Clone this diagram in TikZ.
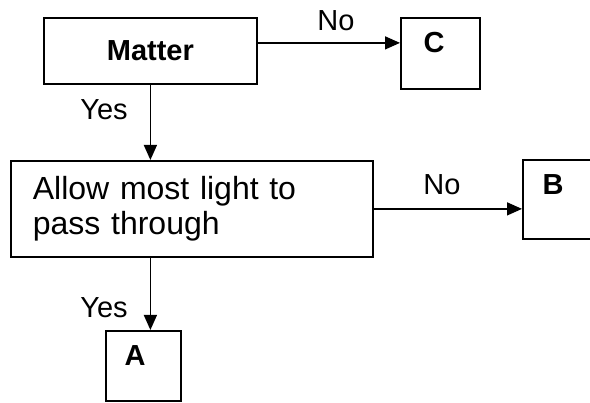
\documentclass[tikz,border=0pt]{standalone}
\usepackage{fontspec}
\setmainfont{Liberation Sans}
\usetikzlibrary{arrows.meta}
\begin{document}
\begin{tikzpicture}[x=1pt,y=1pt,
  box/.style={draw,line width=1.8pt,inner sep=0pt,anchor=north west},
  lbl/.style={font=\fontsize{29}{35}\selectfont,inner sep=0pt},
  blbl/.style={font=\fontsize{29}{35}\selectfont\bfseries,inner sep=0pt},
  conn/.style={line width=1.5pt},
  arr/.style={conn,-{Triangle[length=15pt,width=13pt]}}]
\useasboundingbox (0,0) rectangle (590,-403);
\clip (0,0) rectangle (590,-403);
% boxes
\node[box,minimum width=213pt,minimum height=66pt,blbl] (matter) at (43,-17) {Matter};
\node[box,minimum width=79pt,minimum height=71pt] (c) at (400,-17) {};
\node[box,minimum width=362pt,minimum height=96pt,font=\fontsize{32}{35}\selectfont,align=left,text width=318pt,inner xsep=22pt,inner ysep=0pt] (allow) at (10,-160) {Allow most light to\\pass through};
\node[box,minimum width=90pt,minimum height=79pt] (b) at (522,-159) {};
\node[box,minimum width=75pt,minimum height=70pt] (a) at (105,-330) {};
% letters
\node[blbl] (ctxt) at (434,-43) {C};
\node[blbl] (btxt) at (553,-185) {B};
\node[blbl] (atxt) at (135,-356) {A};
% connectors
\draw[arr] ([yshift=8pt]matter.east) -- ([yshift=8pt]matter.east -| c.west);
\draw[arr] (matter.south) -- (matter.south |- allow.north);
\draw[arr] (allow.east) -- (allow.east -| b.west);
\draw[arr] (allow.south -| matter.south) -- (matter.south |- a.north);
% labels
\node[lbl] (no1) at (336,-21) {No};
\node[lbl] (yes1) at (104,-110) {Yes};
\node[lbl] (no2) at (442,-185) {No};
\node[lbl] (yes2) at (104,-308) {Yes};
\end{tikzpicture}
\end{document}
